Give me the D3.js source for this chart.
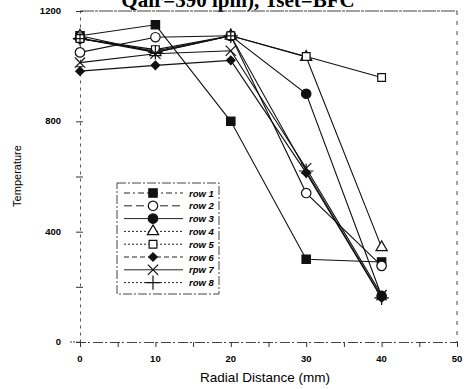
<!DOCTYPE html>
<html>
<head>
<meta charset="utf-8">
<script src="https://cdn.jsdelivr.net/npm/d3@7"></script>
<style>
  body { margin: 0; background: #fff; }
  svg { display: block; }
</style>
</head>
<body>
<div id="chart"></div>
<script>
// radial positions (mm)
var distances = [0, 10, 20, 30, 40];

// temperatures per row
var row1 = [1110, 1150, 800, 300, 290];
var row2 = [1050, 1105, 1110, 540, 276];
var row3 = [1100, 1055, 1110, 900, 167];
var row4 = [1110, 1050, 1110, 1033, 343];
var row5 = [1100, 1060, 1110, 1035, 959];
var row6 = [982, 1003, 1021, 613, 160];
var row7 = [1013, 1045, 1056, 630, 170];
var row8 = [1100, 1050, 1110, 620, 160];

var seriesNames = ["row 1", "row 2", "row 3", "row 4", "row 5", "row 6", "rpw 7", "row 8"];
var seriesValues = [row1, row2, row3, row4, row5, row6, row7, row8];

var xTicks = [0, 5, 10, 15, 20, 25, 30, 35, 40, 45, 50];
var xLabels = [0, 10, 20, 30, 40, 50];
var yTicks = [0, 200, 400, 600, 800, 1000, 1200];
var yLabels = [0, 400, 800, 1200];

var width = 467, height = 389;

var svg = d3.select("#chart").append("svg")
    .attr("width", width)
    .attr("height", height);

var x = d3.scaleLinear().domain([0, 50]).range([80, 457]);
var y = d3.scaleLinear().domain([0, 1200]).range([342, 11]);

// title, cut at the top edge like the scan
svg.append("text")
    .attr("x", 238)
    .attr("y", 7)
    .attr("text-anchor", "middle")
    .style("font-family", "Liberation Serif, serif")
    .style("font-weight", "bold")
    .style("font-size", "21px")
    .text("Qair=390 lpm), Tset=BFC");

// frame (top + right, scanned-looking dotted)
var frame = svg.append("g")
    .attr("fill", "none")
    .attr("stroke", "#444")
    .attr("stroke-width", 1);

frame.append("line")
    .attr("x1", x(0)).attr("x2", x(50))
    .attr("y1", y(1200)).attr("y2", y(1200))
    .attr("stroke-dasharray", "14,1,3,1");
frame.append("line")
    .attr("x1", x(50)).attr("x2", x(50))
    .attr("y1", y(1200)).attr("y2", y(0))
    .attr("stroke-dasharray", "4,6");

// axes
var xAxis = d3.axisBottom(x).tickValues(xTicks).tickSize(5).tickFormat("");
var yAxis = d3.axisLeft(y).tickValues(yTicks).tickSize(0).tickFormat("");

var gx = svg.append("g")
    .attr("transform", "translate(0," + y(0) + ")")
    .call(xAxis);
gx.select(".domain").attr("stroke", "#444").attr("stroke-dasharray", "10,2,2,3");
gx.selectAll(".tick line").attr("stroke", "#333");

var gy = svg.append("g")
    .attr("transform", "translate(" + x(0) + ",0)")
    .call(yAxis);
gy.select(".domain").attr("stroke", "#555").attr("stroke-dasharray", "3,4");

// small ticks across the y axis
gy.selectAll(".tick").append("line")
    .attr("x1", -4).attr("x2", 3)
    .attr("stroke", "#333");

// y axis 0 mark extends left
svg.append("line")
    .attr("x1", 70).attr("x2", x(0))
    .attr("y1", y(0)).attr("y2", y(0))
    .attr("stroke", "#444")
    .attr("stroke-dasharray", "2,1");

// tick labels
svg.selectAll(".xlab")
    .data(xLabels)
    .enter().append("text")
    .attr("class", "xlab")
    .attr("x", function(d) { return x(d); })
    .attr("y", 362)
    .attr("text-anchor", "middle")
    .style("font-family", "Liberation Sans, Arial, sans-serif")
    .style("font-weight", "bold")
    .style("font-size", "9.5px")
    .text(function(d) { return d; });

svg.selectAll(".ylab")
    .data(yLabels)
    .enter().append("text")
    .attr("class", "ylab")
    .attr("x", 61)
    .attr("y", function(d) { return y(d) + 3; })
    .attr("text-anchor", "end")
    .style("font-family", "Liberation Sans, Arial, sans-serif")
    .style("font-weight", "bold")
    .style("font-size", "9.5px")
    .text(function(d) { return d; });

// axis titles
svg.append("text")
    .attr("x", 265)
    .attr("y", 382)
    .attr("text-anchor", "middle")
    .style("font-family", "Liberation Sans, Arial, sans-serif")
    .style("font-size", "13.5px")
    .text("Radial Distance (mm)");

svg.append("text")
    .attr("transform", "translate(21,176) rotate(-90)")
    .attr("text-anchor", "middle")
    .style("font-family", "Liberation Sans, Arial, sans-serif")
    .style("font-size", "11px")
    .text("Temperature");

// marker shapes per series
var plusSym = d3.symbolPlus || d3.symbolCross;
var timesSym = d3.symbolTimes || d3.symbolX;
var markers = [
    {type: d3.symbolSquare, size: 70, fill: true, rot: 0},
    {type: d3.symbolCircle, size: 70, fill: false, rot: 0},
    {type: d3.symbolCircle, size: 70, fill: true, rot: 0},
    {type: d3.symbolTriangle, size: 55, fill: false, rot: 0},
    {type: d3.symbolSquare, size: 60, fill: false, rot: 0},
    {type: d3.symbolSquare, size: 36, fill: true, rot: 45},
    {type: timesSym, size: 70, fill: false, rot: 0},
    {type: plusSym, size: 70, fill: false, rot: 0}
];
var legendDash = ["6,3,2,3", "8,4", null, "2,2", "2,2", "5,3", null, "2,2"];

var line = d3.line()
    .x(function(d, i) { return x(distances[i]); })
    .y(function(d) { return y(d); });

var plot = svg.append("g");

seriesValues.forEach(function(vals, s) {
    plot.append("path")
        .datum(vals)
        .attr("d", line)
        .attr("fill", "none")
        .attr("stroke", "#111")
        .attr("stroke-width", 1.1);
});

function drawMarker(g, s, cx, cy) {
    var m = markers[s];
    g.append("path")
        .attr("d", d3.symbol().type(m.type).size(m.size))
        .attr("transform", "translate(" + cx + "," + cy + ") rotate(" + m.rot + ")")
        .attr("fill", m.fill ? "#111" : "#fff")
        .attr("stroke", "#111")
        .attr("stroke-width", 1.2);
}

seriesValues.forEach(function(vals, s) {
    vals.forEach(function(v, i) {
        drawMarker(plot, s, x(distances[i]), y(v));
    });
});

// legend
var legend = svg.append("g");
legend.append("rect")
    .attr("x", 117).attr("y", 183)
    .attr("width", 102).attr("height", 111)
    .attr("fill", "#fff")
    .attr("stroke", "#444")
    .attr("stroke-dasharray", "9,2,2,2");

seriesNames.forEach(function(name, s) {
    var ly = 193 + s * 12.8;
    legend.append("line")
        .attr("x1", 124).attr("x2", 183)
        .attr("y1", ly).attr("y2", ly)
        .attr("stroke", "#222")
        .attr("stroke-dasharray", legendDash[s]);
    drawMarker(legend, s, 153, ly);
    legend.append("text")
        .attr("x", 189)
        .attr("y", ly + 3.5)
        .style("font-family", "Liberation Sans, Arial, sans-serif")
        .style("font-weight", "bold")
        .style("font-style", "italic")
        .style("font-size", "9.5px")
        .text(name);
});
</script>
</body>
</html>
